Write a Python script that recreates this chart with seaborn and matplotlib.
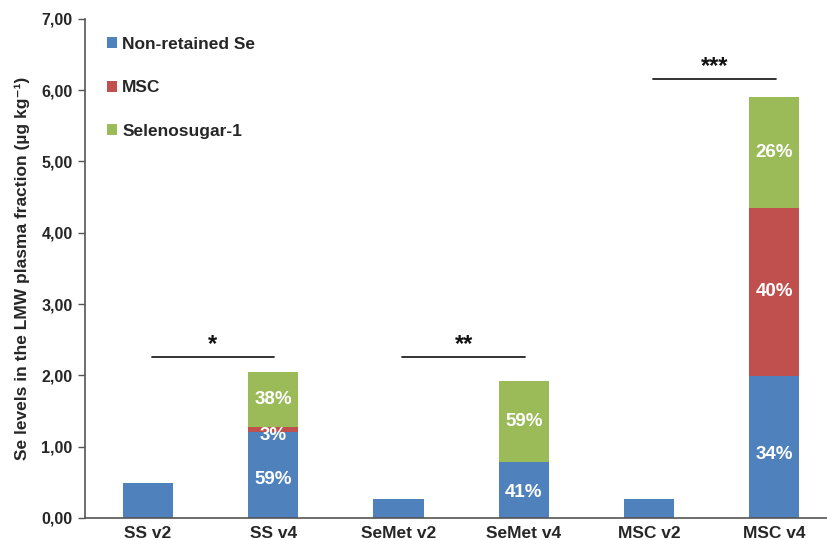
import matplotlib
matplotlib.use("Agg")
import matplotlib.pyplot as plt
from matplotlib.patches import Patch
import seaborn as sns
import pandas as pd

# --- data ---
groups = ["SS v2", "SS v4", "SeMet v2", "SeMet v4", "MSC v2", "MSC v4"]
non_retained = [0.49, 1.21, 0.26, 0.78, 0.26, 1.99]
msc = [0.00, 0.06, 0.00, 0.00, 0.00, 2.36]
selenosugar = [0.00, 0.77, 0.00, 1.14, 0.00, 1.56]

pct_non_retained = ["", "59%", "", "41%", "", "34%"]
pct_msc = ["", "3%", "", "", "", "40%"]
pct_selenosugar = ["", "38%", "", "59%", "", "26%"]

series_names = ["Non-retained Se", "MSC", "Selenosugar-1"]
colors = ["#4F81BD", "#C0504D", "#9BBB59"]

# significance brackets: (from group, to group, height, stars)
sig_pairs = [("SS v2", "SS v4", 2.25, "*"),
             ("SeMet v2", "SeMet v4", 2.25, "**"),
             ("MSC v2", "MSC v4", 6.15, "***")]

df = pd.DataFrame({"group": groups, "non_retained": non_retained,
                   "msc": msc, "selenosugar": selenosugar})
df["b_msc"] = df["non_retained"]
df["b_sugar"] = df["non_retained"] + df["msc"]

sns.set_theme(style="white")
plt.rcParams["font.family"] = ["Liberation Sans", "DejaVu Sans"]
plt.rcParams["font.weight"] = "bold"

fig = plt.figure(figsize=(8.27, 5.40), dpi=100)
ax = fig.add_axes([0.103, 0.041, 0.897, 0.924])

sns.barplot(data=df, x="group", y="non_retained", order=groups, color=colors[0],
            saturation=1, width=0.4, ax=ax, linewidth=0)
sns.barplot(data=df, x="group", y="msc", order=groups, color=colors[1],
            saturation=1, width=0.4, ax=ax, linewidth=0, bottom=df["b_msc"])
sns.barplot(data=df, x="group", y="selenosugar", order=groups, color=colors[2],
            saturation=1, width=0.4, ax=ax, linewidth=0, bottom=df["b_sugar"])

# percentage labels inside segments
for i in range(len(groups)):
    nr, m, s = non_retained[i], msc[i], selenosugar[i]
    if pct_non_retained[i]:
        ax.text(i, nr * 0.45, pct_non_retained[i], ha="center", va="center",
                color="white", fontsize=13.5, fontweight="bold")
    if pct_msc[i]:
        y = nr + m / 2 if m > 0.5 else nr - 0.05
        ax.text(i, y, pct_msc[i], ha="center", va="center",
                color="white", fontsize=13.5, fontweight="bold")
    if pct_selenosugar[i]:
        ax.text(i, nr + m + s / 2, pct_selenosugar[i], ha="center", va="center",
                color="white", fontsize=13.5, fontweight="bold")

# significance lines
for g1, g2, h, stars in sig_pairs:
    x1, x2 = groups.index(g1) + 0.03, groups.index(g2) + 0.01
    ax.plot([x1, x2], [h, h], color="#222222", lw=1.3)
    ax.text((x1 + x2) / 2, h + 0.02, stars, ha="center", va="bottom",
            fontsize=17, fontweight="bold", color="#111111")

ax.set_ylim(0, 7)
ax.set_xlim(-0.5, 5.42)
ax.set_yticks([0, 1, 2, 3, 4, 5, 6, 7])
ax.set_yticklabels([f"{v:.2f}".replace(".", ",") for v in range(8)],
                   fontsize=11.5, fontweight="bold")
ax.set_xticks(range(len(groups)))
ax.set_xticklabels(groups, fontsize=12.5, fontweight="bold")
ax.set_xlabel("")
ax.set_ylabel("Se levels in the LMW plasma fraction (µg kg⁻¹)",
              fontsize=12.5, fontweight="bold", labelpad=8)

sns.despine(ax=ax)
for sp in ["left", "bottom"]:
    ax.spines[sp].set_color("#555555")
    ax.spines[sp].set_linewidth(1.2)
ax.tick_params(axis="y", direction="out", length=5, width=1, color="#555555",
               left=True, pad=4)
ax.tick_params(axis="x", length=0, pad=6)

handles = [Patch(facecolor=c, edgecolor="none") for c in colors]
ax.legend(handles, series_names, loc="upper left", bbox_to_anchor=(0.129, 0.932),
          bbox_transform=fig.transFigure, frameon=False,
          prop={"size": 12.5, "weight": "bold"}, handlelength=0.6,
          handleheight=0.6, handletextpad=0.3, labelspacing=1.65,
          borderaxespad=0, borderpad=0)

fig.savefig("out.png", dpi=100)
